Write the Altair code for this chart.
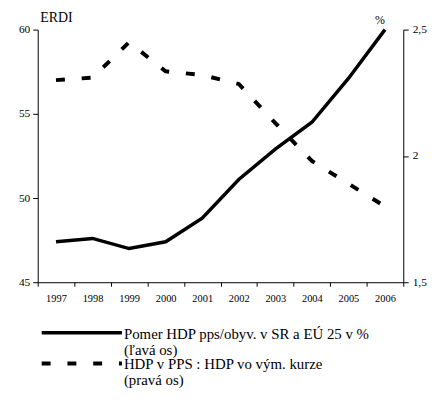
import altair as alt
import pandas as pd

years = ["1997", "1998", "1999", "2000", "2001", "2002", "2003", "2004", "2005", "2006"]
ratio_erdi = [47.4, 47.6, 47.0, 47.4, 48.8, 51.1, 52.9, 54.5, 57.1, 60.0]
pps_ratio = [2.30, 2.31, 2.45, 2.335, 2.32, 2.285, 2.13, 1.98, 1.89, 1.80]

left_ticks = [45, 50, 55, 60]
right_ticks = [1.5, 2.0, 2.5]

legend_solid = ["Pomer HDP pps/obyv. v SR a EÚ 25 v %", "(ľavá os)"]
legend_dashed = ["HDP v PPS : HDP vo vým. kurze", "(pravá os)"]

df = pd.DataFrame({"year": years, "ratio": ratio_erdi, "pps": pps_ratio})

FONT = "Liberation Serif"
W, H = 369, 255

x_enc = alt.X(
    "year:O",
    scale=alt.Scale(type="band", paddingInner=0, paddingOuter=0),
    axis=alt.Axis(
        title=None, labelAngle=0, tickBand="extent", tickSize=4,
        labelFont=FONT, labelFontSize=10.5, labelPadding=7,
        domainColor="black", tickColor="black", labelColor="black",
    ),
)

base = alt.Chart(df)

solid = base.mark_line(color="black", strokeWidth=3.5).encode(
    x=x_enc,
    y=alt.Y(
        "ratio:Q",
        scale=alt.Scale(domain=[45, 60], nice=False, zero=False),
        axis=alt.Axis(
            values=left_ticks, grid=False, tickSize=5, labelPadding=3,
            labelFont=FONT, labelFontSize=11.5, labelColor="black",
            domainColor="black", tickColor="black",
            title="ERDI", titleAngle=0, titleX=2, titleY=-12,
            titleAlign="left", titleBaseline="middle",
            titleFont=FONT, titleFontSize=14, titleFontWeight="normal", titleColor="black",
        ),
    ),
)

dashed = base.mark_line(color="black", strokeWidth=4, strokeDash=[9, 17], strokeCap="butt").encode(
    x=x_enc,
    y=alt.Y(
        "pps:Q",
        scale=alt.Scale(domain=[1.5, 2.5], nice=False, zero=False),
        axis=alt.Axis(
            orient="right", values=right_ticks, grid=False, tickSize=5, labelPadding=4,
            labelExpr="replace(format(datum.value, '~g'), '.', ',')",
            labelFont=FONT, labelFontSize=11.5, labelColor="black",
            domainColor="black", tickColor="black",
            title="%", titleAngle=0, titleX=-24, titleY=-10,
            titleAlign="center", titleBaseline="middle",
            titleFont=FONT, titleFontSize=12, titleFontWeight="normal", titleColor="black",
        ),
    ),
)

leg1_df = pd.DataFrame({"t": [legend_solid]})
leg2_df = pd.DataFrame({"t": [legend_dashed]})

leg1_line = alt.Chart(leg1_df).mark_rule(color="black", strokeWidth=3.5).encode(
    x=alt.value(4), x2=alt.value(85), y=alt.value(H + 51)
)
leg1_text = alt.Chart(leg1_df).mark_text(
    align="left", baseline="middle", font=FONT, fontSize=15, lineHeight=16, color="black"
).encode(x=alt.value(87), y=alt.value(H + 52), text="t")

leg2_line = alt.Chart(leg2_df).mark_rule(
    color="black", strokeWidth=4, strokeDash=[9, 17], strokeCap="butt"
).encode(x=alt.value(4), x2=alt.value(85), y=alt.value(H + 82))
leg2_text = alt.Chart(leg2_df).mark_text(
    align="left", baseline="middle", font=FONT, fontSize=15, lineHeight=16, color="black"
).encode(x=alt.value(87), y=alt.value(H + 83), text="t")

chart = (
    alt.layer(solid, dashed, leg1_line, leg1_text, leg2_line, leg2_text)
    .resolve_scale(y="independent")
    .properties(
        width=W, height=H,
        autosize=alt.AutoSizeParams(type="none"),
        padding={"left": 30, "top": 20, "right": 28, "bottom": 112},
        background="white",
    )
    .configure(font=FONT)
    .configure_axis(labelFont=FONT, titleFont=FONT)
    .configure_view(stroke=None)
)

chart.save("out.html", embed_options={"renderer": "svg", "actions": False})
